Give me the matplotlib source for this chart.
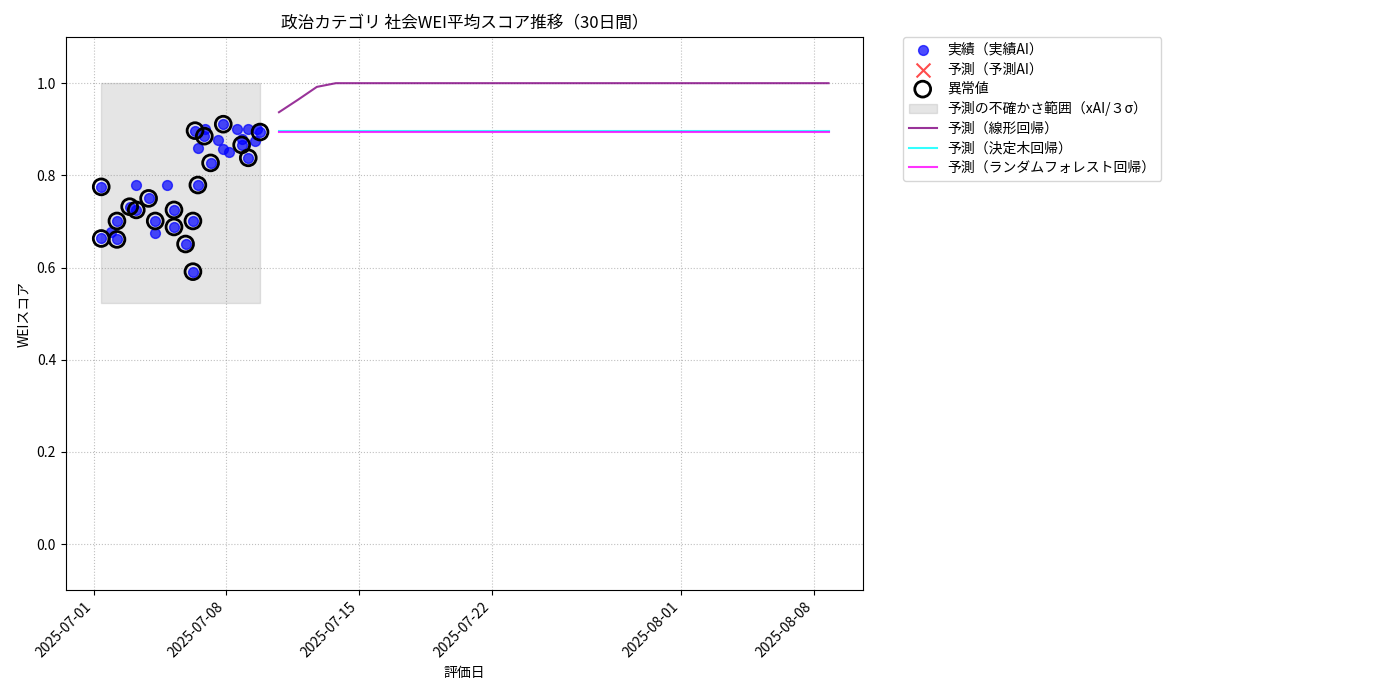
import matplotlib
matplotlib.use("Agg")
import matplotlib.pyplot as plt
import matplotlib.dates as mdates
import pandas as pd

plt.rcParams['font.family'] = ['Noto Sans CJK JP', 'DejaVu Sans']

actual_dates = pd.to_datetime([
    "2025-07-01 09:36", "2025-07-01 09:36", "2025-07-01 21:36", "2025-07-02 05:30",
    "2025-07-02 05:30", "2025-07-02 21:36", "2025-07-03 06:00", "2025-07-03 06:00",
    "2025-07-03 21:36", "2025-07-04 06:00", "2025-07-04 06:00", "2025-07-04 21:07",
    "2025-07-05 05:45", "2025-07-05 05:45", "2025-07-05 20:24", "2025-07-06 05:45",
    "2025-07-06 05:45", "2025-07-06 08:24", "2025-07-06 12:00", "2025-07-06 12:30",
    "2025-07-06 20:10", "2025-07-06 21:00", "2025-07-07 04:05", "2025-07-07 13:00",
    "2025-07-07 19:26", "2025-07-07 20:10", "2025-07-08 03:50", "2025-07-08 13:12",
    "2025-07-08 19:26", "2025-07-08 19:26", "2025-07-09 03:50", "2025-07-09 03:50",
    "2025-07-09 12:14", "2025-07-09 15:00", "2025-07-09 18:43"])
actual_scores = [
    0.775, 0.663, 0.677, 0.701,
    0.661, 0.732, 0.780, 0.725,
    0.750, 0.701, 0.675, 0.780,
    0.725, 0.688, 0.651, 0.701,
    0.591, 0.897, 0.779, 0.860,
    0.885, 0.901, 0.827, 0.876,
    0.858, 0.911, 0.850, 0.900,
    0.878, 0.866, 0.900, 0.838,
    0.875, 0.900, 0.894]
is_anomaly = [
    1, 1, 0, 1,
    1, 1, 0, 1,
    1, 1, 0, 0,
    1, 1, 1, 1,
    1, 1, 1, 0,
    1, 0, 1, 0,
    0, 1, 0, 0,
    0, 1, 0, 1,
    0, 0, 1]

# uncertainty band (xAI / 3 sigma)
band_lower = 0.523
band_upper = 1.0

# 30-day forecasts
fc_dates = pd.date_range("2025-07-10 18:43", periods=30, freq="D")
fc_linear = [0.937, 0.964, 0.992] + [1.0] * 27
fc_tree = [0.897] * 30
fc_rf = [0.894] * 30

fig = plt.figure(figsize=(14, 7), dpi=100)
ax = fig.add_axes([0.047, 0.157, 0.5697, 0.79])

ax.scatter(actual_dates, actual_scores, s=50, color='blue', alpha=0.7,
           label='実績（実績AI）', zorder=3)
ax.scatter([], [], s=100, color='red', marker='x', alpha=0.7, label='予測（予測AI）')
anom_d = [d for d, a in zip(actual_dates, is_anomaly) if a]
anom_v = [v for v, a in zip(actual_scores, is_anomaly) if a]
ax.scatter(anom_d, anom_v, s=130, facecolors='none', edgecolors='black',
           linewidths=2, label='異常値', zorder=4)
ax.fill_between([actual_dates.min(), actual_dates.max()], band_lower, band_upper,
                color='gray', alpha=0.2, label='予測の不確かさ範囲（xAI/３σ）')
ax.plot(fc_dates, fc_linear, color='purple', alpha=0.8, lw=1.5, label='予測（線形回帰）')
ax.plot(fc_dates, fc_tree, color='cyan', alpha=0.8, lw=1.5, label='予測（決定木回帰）')
ax.plot(fc_dates, fc_rf, color='magenta', alpha=0.8, lw=1.5,
        label='予測（ランダムフォレスト回帰）')

ax.set_xlim(pd.Timestamp("2025-06-29 12:43"), pd.Timestamp("2025-08-10 14:53"))
ax.set_ylim(-0.1, 1.1)
ticks = pd.to_datetime(["2025-07-01", "2025-07-08", "2025-07-15", "2025-07-22",
                        "2025-08-01", "2025-08-08"])
ax.set_xticks(ticks)
ax.xaxis.set_major_formatter(mdates.DateFormatter('%Y-%m-%d'))
plt.setp(ax.get_xticklabels(), rotation=45, ha='right')
ax.grid(True, ls=':', color='gray', alpha=0.5)

ax.set_title('政治カテゴリ 社会WEI平均スコア推移（30日間）', fontsize=12)
ax.set_xlabel('評価日')
ax.set_ylabel('WEIスコア')
ax.legend(bbox_to_anchor=(1.05, 1), loc='upper left', borderaxespad=0.,
          labelspacing=0.4)

fig.savefig('out.png', dpi=100)
